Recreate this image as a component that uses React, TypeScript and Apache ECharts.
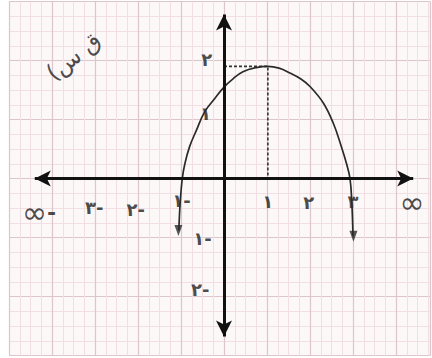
import React, { useEffect, useRef } from "react";
import * as echarts from "echarts";

// Curve f(x) (hand-drawn parabola, vertex near (1, 2))
const curveX = [-1.05, -1.02, -0.97, -0.91, -0.8, -0.64, -0.45, -0.21, 0, 0.21, 0.44, 0.75, 1.02, 1.28, 1.53, 1.78, 2.0, 2.31, 2.54, 2.73, 2.85, 2.93, 2.97, 3.0];
const curveY = [-0.88, -0.42, 0, 0.25, 0.54, 0.82, 1.13, 1.36, 1.55, 1.69, 1.81, 1.88, 1.9, 1.87, 1.79, 1.69, 1.56, 1.28, 0.94, 0.54, 0.25, 0, -0.37, -0.98];

// Arrow tips at the ends of the curve
const tipX = [-1.06, 3.01];
const tipY = [-0.88, -0.98];

// Dashed guide lines to the vertex
const guideX = [0, 1.02, 1.02];
const guideY = [1.9, 1.9, 0];

// Coordinate axes (drawn with arrows at both ends)
const xAxisEnds = [-4.4, 4.4];
const yAxisEnds = [2.78, -2.68];

// Tick labels (Eastern Arabic numerals)
const xTickText = ["١-", "٢-", "٣-", "١", "٢", "٣"];
const xTickX = [-0.99, -2.05, -3.02, 1.02, 1.97, 3.0];
const xTickY = [-0.38, -0.53, -0.49, -0.39, -0.41, -0.39];

const yTickText = ["٢", "١", "١-", "٢-"];
const yTickX = [-0.4, -0.43, -0.5, -0.55];
const yTickY = [2.02, 1.1, -1.02, -1.88];

const infText = ["∞-", "∞"];
const infX = [-4.3, 4.37];
const infY = [-0.58, -0.41];

const titleText = "\u200Fق س)\u200F";
const titlePos = [-3.5, 2.07];

export default function App() {
  const ref = useRef<HTMLDivElement>(null);
  useEffect(() => {
    document.body.style.margin = "0";
    const chart = echarts.init(ref.current!, null, { renderer: "svg" });
    const labelFont = {
      show: true,
      position: "inside",
      formatter: "{b}",
      color: "#1c1c1c",
      fontFamily: "DejaVu Sans",
      fontWeight: "bold",
    };
    chart.setOption({
      animation: false,
      backgroundColor: "#ffffff",
      grid: {
        left: 9,
        top: 1.5,
        width: 9.8 * 43,
        height: 354,
        show: true,
        backgroundColor: "#fcf8f8",
        borderWidth: 0,
      },
      xAxis: {
        type: "value",
        min: -5,
        max: 4.8,
        interval: 1,
        axisLine: { show: false },
        axisTick: { show: false },
        axisLabel: { show: false },
        splitLine: { show: true, lineStyle: { color: "#dcc6ca", width: 1.2 } },
        minorTick: { show: false, splitNumber: 4 },
        minorSplitLine: { show: true, lineStyle: { color: "#f2dfe3", width: 1 } },
      },
      yAxis: {
        type: "value",
        min: -3,
        max: 3,
        interval: 1,
        axisLine: { show: false },
        axisTick: { show: false },
        axisLabel: { show: false },
        splitLine: { show: true, lineStyle: { color: "#dcc6ca", width: 1.2 } },
        minorTick: { show: false, splitNumber: 4 },
        minorSplitLine: { show: true, lineStyle: { color: "#f2dfe3", width: 1 } },
      },
      series: [
        {
          type: "line",
          data: [[0, 0]],
          symbol: "none",
          lineStyle: { opacity: 0 },
          markLine: {
            silent: true,
            symbol: ["arrow", "arrow"],
            symbolSize: [12, 16],
            label: { show: false },
            lineStyle: { color: "#111111", width: 3, type: "solid" },
            data: [
              [{ coord: [xAxisEnds[0], 0] }, { coord: [xAxisEnds[1], 0] }],
              [{ coord: [0, yAxisEnds[0]] }, { coord: [0, yAxisEnds[1]] }],
            ],
          },
        },
        {
          type: "line",
          data: guideX.map((x, i) => [x, guideY[i]]),
          symbol: "none",
          lineStyle: { color: "#333333", width: 1.6, type: [3, 2] },
        },
        {
          type: "line",
          data: curveX.map((x, i) => [x, curveY[i]]),
          symbol: "none",
          smooth: 0.4,
          lineStyle: { color: "#2a2a2a", width: 1.7 },
        },
        {
          type: "scatter",
          data: tipX.map((x, i) => [x, tipY[i]]),
          symbol: "triangle",
          symbolRotate: 180,
          symbolSize: [8, 11],
          itemStyle: { color: "#2a2a2a" },
        },
        {
          type: "scatter",
          symbolSize: 0,
          data: xTickText.map((t, i) => ({ name: t, value: [xTickX[i], xTickY[i]] })),
          label: { ...labelFont, fontSize: 18 },
        },
        {
          type: "scatter",
          symbolSize: 0,
          data: yTickText.map((t, i) => ({ name: t, value: [yTickX[i], yTickY[i]] })),
          label: { ...labelFont, fontSize: 18 },
        },
        {
          type: "scatter",
          symbolSize: 0,
          data: infText.map((t, i) => ({ name: t, value: [infX[i], infY[i]] })),
          label: {
            ...labelFont,
            fontWeight: "normal",
            formatter: (p: any) =>
              p.name
                .split("")
                .map((ch: string) => (ch === "∞" ? `{i|${ch}}` : `{d|${ch}}`))
                .join(""),
            rich: {
              i: { fontSize: 30, fontFamily: "DejaVu Sans", color: "#1c1c1c" },
              d: { fontSize: 22, fontWeight: "bold", fontFamily: "DejaVu Sans", color: "#1c1c1c" },
            },
          },
        },
        {
          type: "scatter",
          symbolSize: 0,
          data: [{ name: titleText, value: titlePos }],
          label: { ...labelFont, fontSize: 23, fontWeight: "normal", rotate: 38 },
        },
      ],
    });
    return () => chart.dispose();
  }, []);
  return <div ref={ref} style={{ width: 432, height: 358 }} />;
}
